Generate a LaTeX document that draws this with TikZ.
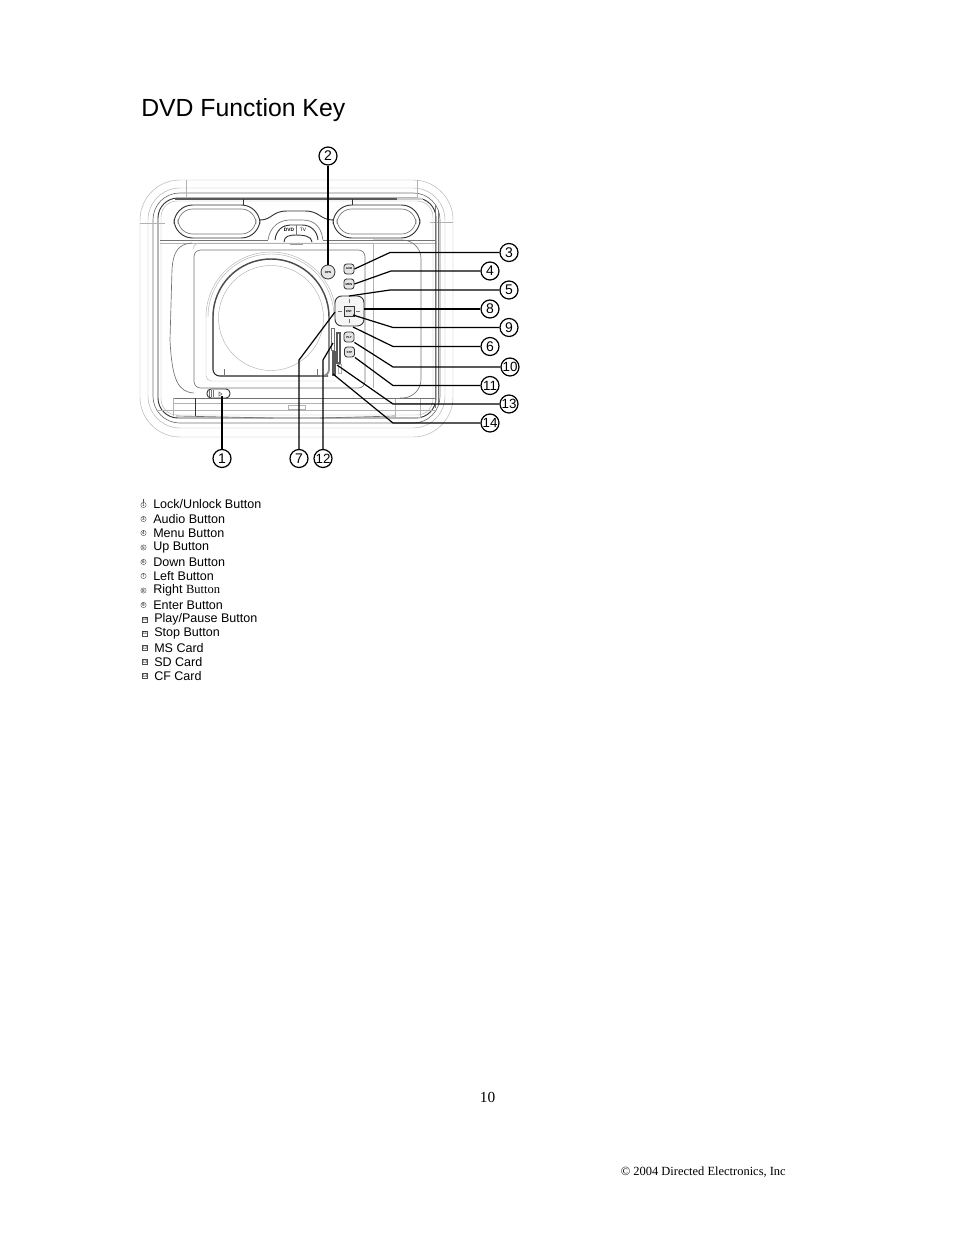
\documentclass[tikz,border=0pt]{standalone}
\usepackage{fontspec}
\setmainfont{Liberation Sans}
\newfontfamily\serifface{Liberation Serif}
\tikzset{
  callout/.style={shape=circle,draw=black,fill=white,line width=0.9pt,inner sep=0pt,minimum size=13.5pt,font=\fontsize{10.5}{12}\selectfont},
  tightcallout/.style={callout,font=\fontsize{10}{12}\selectfont},
  leader/.style={draw=black,line width=0.9pt},
  outline/.style={draw=black!30,line width=0.35pt},
  midline/.style={draw=black!55,line width=0.5pt},
  heavy/.style={draw=black!80,line width=0.7pt},
  keycap/.style={shape=rectangle,rounded corners=2pt,draw=black!80,line width=0.6pt,fill=black!10,inner sep=0pt,minimum width=7.5pt,minimum height=7.5pt,font=\bfseries\fontsize{2.2}{3}\selectfont},
  legend/.style={anchor=west,inner sep=0pt,font=\fontsize{9.4}{11}\selectfont},
  legendmark/.style={shape=circle,draw=black!70,line width=0.3pt,inner sep=0pt,minimum size=4pt,font=\fontsize{3.4}{4}\selectfont},
  legendbox/.style={shape=rectangle,draw=black!70,line width=0.3pt,inner sep=0.3pt,minimum size=4pt,font=\fontsize{3}{4}\selectfont}
}
\begin{document}
\begin{tikzpicture}[x=0.75pt,y=-0.75pt]
  \useasboundingbox (0,0) rectangle (954,1235);
  % title
  \node[anchor=base west,inner sep=0pt,font=\fontsize{18.6}{22}\selectfont] (title) at (141,116) {DVD Function Key};
  % outer shell
  \draw[outline,rounded corners=30pt] (140,180) rectangle (453,437);
  \draw[outline,rounded corners=24pt] (148,188) rectangle (445,428);
  \draw[midline,rounded corners=20pt] (153,193) rectangle (440,423);
  \draw[heavy,rounded corners=15pt] (158,198) rectangle (436,418);
  \draw[outline,rounded corners=12pt] (161,201) rectangle (433,415);
  \draw[draw=black!65,line width=1.1pt] (175,199) -- (397,199);
  \draw[draw=black!20,line width=1.4pt] (397,199) -- (423,199);
  \draw[outline] (140,223) -- (165,223) (186,180) -- (186,198) (417,180) -- (417,198) (430,222) -- (453,222);
  % speakers
  \draw[heavy,rounded corners=14pt] (174,205) rectangle (260,238);
  \draw[midline,rounded corners=11pt] (178,209) rectangle (256,234);
  \draw[heavy] (243,199) -- (243,205);
  \draw[heavy,rounded corners=14pt] (333,205) rectangle (420,238);
  \draw[midline,rounded corners=11pt] (337,209) rectangle (416,234);
  \draw[heavy] (352,199) -- (352,205);
  % top switch
  \draw[heavy] (260,220) .. controls (272,220) and (272,211) .. (287,211) -- (305,211) .. controls (320,211) and (320,220) .. (333,220);
  \draw[midline] (268,240) .. controls (270,226) and (280,220) .. (290,220) -- (302,220) .. controls (314,220) and (321,226) .. (323,240);
  \draw[heavy] (275,240) .. controls (276,230) and (283,225) .. (290,225) -- (302,225) .. controls (310,225) and (317,230) .. (318,240);
  \draw[heavy] (284,242) .. controls (284,236) and (290,235) .. (296,235) .. controls (303,235) and (312,236) .. (312,242);
  \draw[midline] (296,225) -- (296,235);
  \node[inner sep=0pt,font=\bfseries\fontsize{3.6}{4}\selectfont] (srcleft) at (289,229.5) {DVD};
  \node[inner sep=0pt,font=\fontsize{3.6}{4}\selectfont] (srcright) at (303,229.5) {TV};
  \draw[draw=black!40,line width=1.5pt] (290,243.5) -- (303,243.5);
  % inner body
  \draw[midline] (160,240) -- (268,240) (323,240) -- (436,240);
  \draw[outline] (160,243) -- (436,243);
  \draw[midline,rounded corners=5pt] (194,388) -- (194,250) -- (365,250) -- (365,388) -- cycle;
  \draw[outline,rounded corners=5pt] (373,243) -- (193,243) -- (193,250);
  \draw[outline] (373,243) -- (373,388);
  \draw[midline] (192,243) .. controls (178,244) and (173,252) .. (172,270) -- (170,340) .. controls (172,380) and (178,392) .. (194,393);
  % disc well
  \draw[draw=black!70,line width=1.1pt] (213,317) arc[start angle=180,end angle=360,radius=58];
  \draw[draw=black!85,line width=0.8pt,rounded corners=5pt] (213,317) -- (213,376) -- (328,376);
  \draw[draw=black!45,line width=1.4pt,rounded corners=5pt] (329,317) -- (329,376) -- (320,376);
  \draw[outline] (271,318) circle[radius=52.5];
  \draw[outline] (206,317) arc[start angle=180,end angle=360,radius=65];
  \draw[outline] (208,317) arc[start angle=180,end angle=360,radius=63];
  \draw[outline,rounded corners=4pt] (206,317) -- (206,381) -- (336,381);
  \draw[midline] (224,369) -- (224,376) (317,369) -- (317,376);
  % right panel
  \draw[midline,rounded corners=14pt] (373,240) -- (421,240) -- (421,398) -- (400,398);
  \draw[outline] (395,398) rectangle (420,417);
  \draw[midline] (435,205) -- (435,408) (438,210) -- (438,405);
  % lower edge
  \draw[midline] (173,398) -- (436,398);
  \draw[outline] (173,403) -- (436,403) (173,398) -- (173,416) (157,410) -- (436,410);
  \draw[heavy] (195,398) -- (195,416);
  \draw[outline] (288,405) rectangle (305,409);
  \draw[midline] (176,416) -- (273,418) (320,418) -- (395,416);
  % lock slider
  \draw[heavy,rounded corners=3pt] (207,389) rectangle (230,398);
  \draw[midline] (209,390) -- (209,397) (211,390) -- (211,397) (213,390) -- (213,397);
  \draw[midline] (219,392) -- (222,394) -- (219,396) -- cycle;
  % card slots
  \draw[midline] (331,328) rectangle (334,350);
  \draw[draw=black!65,line width=0.8pt] (337,333) rectangle (340,363);
  \draw[draw=black!65,line width=0.8pt] (333,352) rectangle (335,375);
  \draw[outline] (338,364) rectangle (341,373);
  % open button
  \node[shape=circle,draw=black!80,line width=0.6pt,fill=black!10,inner sep=0pt,minimum size=10.5pt,font=\bfseries\fontsize{2.2}{3}\selectfont] (open) at (328,272) {OPN};
  % key caps
  \node[keycap] (audio) at (349,269) {AUD};
  \node[keycap] (menu) at (349,284) {MEN};
  \node[keycap] (play) at (349,337) {PLY};
  \node[keycap] (stop) at (349.5,352) {STP};
  % direction pad
  \draw[heavy,rounded corners=5pt,fill=black!4] (335,296) rectangle (364,326);
  \draw[midline] (349,299) -- (349,303) (349,319) -- (349,323) (338,311) -- (342,311) (356,311) -- (360,311);
  \node[keycap,minimum width=7.5pt,minimum height=7.5pt,rounded corners=0pt] (enter) at (349,311) {ENT};
  % call outs
  \node[callout] (n2) at (328,156) {2};
  \node[callout] (n3) at (509,252.5) {3};
  \node[callout] (n4) at (490,271) {4};
  \node[callout] (n5) at (509,290) {5};
  \node[callout] (n8) at (490,309) {8};
  \node[callout] (n9) at (509,327.5) {9};
  \node[callout] (n6) at (490,346.5) {6};
  \node[tightcallout] (n10) at (510,367) {10};
  \node[tightcallout] (n11) at (490,385.5) {11};
  \node[tightcallout] (n13) at (509,404) {13};
  \node[tightcallout] (n14) at (490,423) {14};
  \node[callout] (n1) at (222,458.5) {1};
  \node[callout] (n7) at (299,458.5) {7};
  \node[tightcallout] (n12) at (323,458.5) {12};
  % anchors on the device
  \coordinate (p5) at (349,296);
  \coordinate (p8) at (364,309);
  \coordinate (p9) at (353,315);
  \coordinate (p6) at (353,327);
  \coordinate (p13) at (337,365);
  \coordinate (p14) at (333,374);
  \coordinate (p1) at (222,396);
  \coordinate (p7) at (335,312);
  \coordinate (p12) at (333,343);
  % leaders
  \draw[leader] (n2) -- (open);
  \draw[leader] (n3) -- (390,252.5) -- (audio.east);
  \draw[leader] (n4) -- (391,271) -- (menu.east);
  \draw[leader] (n5) -- (390,290) -- (p5);
  \draw[leader] (n8) -- (p8);
  \draw[leader] (n9) -- (393,327.5) -- (p9);
  \draw[leader] (n6) -- (393,346.5) -- (p6);
  \draw[leader] (n10) -- (393,367) -- (play.south east);
  \draw[leader] (n11) -- (393,385.5) -- (stop.south east);
  \draw[leader] (n13) -- (393,404) -- (p13);
  \draw[leader] (n14) -- (393,423) -- (p14);
  \draw[leader] (n1) -- (p1);
  \draw[leader] (n7) -- (299,360) -- (p7);
  \draw[leader] (n12) -- (323,360) -- (p12);
  % legend
  \node[legendmark] (m1) at (143.5,505) {1};
  \draw[draw=black!70,line width=0.3pt] (m1.north) -- (143.5,499);
  \node[legend] (t1) at (153,504) {Lock/Unlock Button};
  \node[legendmark] (m3) at (143.5,519) {3};
  \node[legend] (t3) at (153,519) {Audio Button};
  \node[legendmark] (m4) at (143.5,533) {4};
  \node[legend] (t4) at (153,533) {Menu Button};
  \node[legendmark] (m5) at (143.5,547.5) {5};
  \node[legend] (t5) at (153,547.5) {Up Button};
  \node[legendmark] (m6) at (143.5,562) {6};
  \node[legend] (t6) at (153,562) {Down Button};
  \node[legendmark] (m7) at (143.5,576) {7};
  \node[legend] (t7) at (153,576) {Left Button};
  \node[legendmark] (m8) at (143.5,590.5) {8};
  \node[legend] (t8) at (153,590.5) {Right {\serifface Button}};
  \node[legendmark] (m9) at (143.5,605) {9};
  \node[legend] (t9) at (153,605) {Enter Button};
  \node[legendbox] (m10) at (145,619.5) {10};
  \node[legend] (t10) at (154,619.5) {Play/Pause Button};
  \node[legendbox] (m11) at (145,633.5) {11};
  \node[legend] (t11) at (154,633.5) {Stop Button};
  \node[legendbox] (m12) at (145,648) {12};
  \node[legend] (t12) at (154,648) {MS Card};
  \node[legendbox] (m13) at (145,662) {13};
  \node[legend] (t13) at (154,662) {SD Card};
  \node[legendbox] (m14) at (145,676) {14};
  \node[legend] (t14) at (154,676) {CF Card};
  % foot of page
  \node[anchor=base,inner sep=0pt,font=\serifface\fontsize{11.5}{13}\selectfont] (pageno) at (487.5,1102) {10};
  \node[anchor=base east,inner sep=0pt,font=\serifface\fontsize{9.35}{11}\selectfont] (copyright) at (786,1175) {© 2004 Directed Electronics, Inc};
\end{tikzpicture}
\end{document}
